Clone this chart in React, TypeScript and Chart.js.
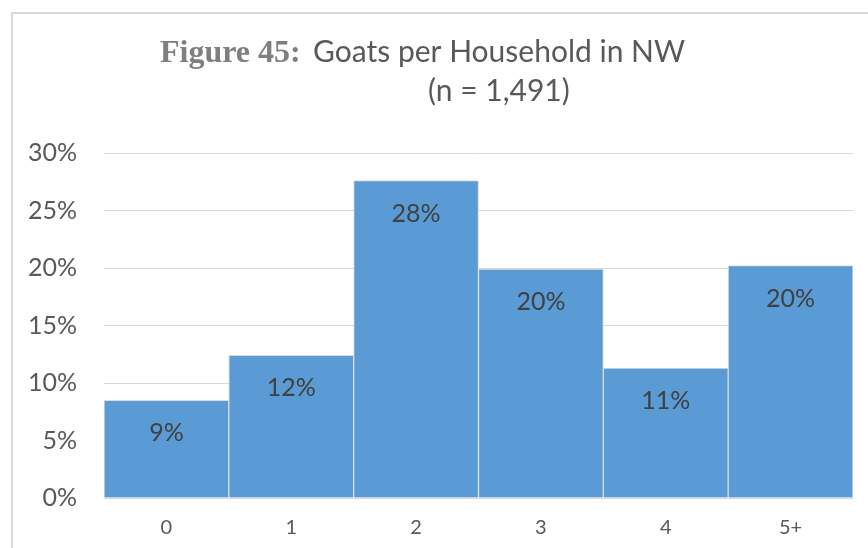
import React, { useEffect, useRef } from "react";
import { Chart, registerables } from "chart.js";

Chart.register(...registerables);

const categories = ["0", "1", "2", "3", "4", "5+"];
const shares = [8.5, 12.4, 27.6, 19.9, 11.3, 20.2];
const yTicks = [0, 5, 10, 15, 20, 25, 30];
const titleLead = "Figure 45:";
const titleMain = "Goats per Household in NW";
const titleSub = "(n = 1,491)";

const SANS = 'Lato, "Open Sans", sans-serif';

const decorPlugin = {
  id: "decor",
  beforeDraw(chart: any) {
    const ctx = chart.ctx;
    ctx.save();
    ctx.fillStyle = "#ffffff";
    ctx.fillRect(0, 0, chart.width, chart.height);
    ctx.strokeStyle = "#d9d9d9";
    ctx.lineWidth = 2;
    ctx.beginPath();
    ctx.moveTo(12, chart.height);
    ctx.lineTo(12, 13);
    ctx.lineTo(chart.width, 13);
    ctx.stroke();
    ctx.restore();
  },
  afterDraw(chart: any) {
    const ctx = chart.ctx;
    ctx.save();
    ctx.textBaseline = "alphabetic";
    ctx.textAlign = "left";
    ctx.font = 'bold 32px "Liberation Serif", "Times New Roman", serif';
    ctx.fillStyle = "#7f7f7f";
    ctx.fillText(titleLead, 160, 62);
    ctx.font = "30px " + SANS;
    ctx.fillStyle = "#595959";
    ctx.fillText(titleMain, 313, 62);
    ctx.fillText(titleSub, 428, 101);

    // data labels
    const meta = chart.getDatasetMeta(0);
    ctx.font = "25px " + SANS;
    ctx.fillStyle = "#404040";
    ctx.textAlign = "center";
    ctx.textBaseline = "middle";
    meta.data.forEach((bar: any, i: number) => {
      const v = chart.data.datasets[0].data[i];
      ctx.fillText(Math.round(v) + "%", bar.x, bar.y + 33);
    });
    ctx.restore();
  },
};

export default function App() {
  const ref = useRef<HTMLCanvasElement | null>(null);
  useEffect(() => {
    if (!ref.current) return;
    const chart = new Chart(ref.current, {
      type: "bar",
      data: {
        labels: categories,
        datasets: [
          {
            data: shares,
            backgroundColor: "#5b9bd5",
            borderColor: "#dcdcdc",
            borderWidth: 1,
            barPercentage: 1,
            categoryPercentage: 1,
          },
        ],
      },
      options: {
        responsive: false,
        animation: false,
        layout: { padding: { left: 0, top: 153, right: 15, bottom: 8 } },
        plugins: {
          legend: { display: false },
          title: { display: false },
          tooltip: { enabled: false },
        },
        scales: {
          x: {
            grid: { display: false },
            border: { display: false },
            ticks: {
              color: "#595959",
              font: { family: SANS, size: 20 },
              padding: 10,
            },
            afterFit: (s: any) => {
              s.height = 42;
            },
          },
          y: {
            min: 0,
            max: 30,
            afterBuildTicks: (s: any) => {
              s.ticks = yTicks.map((v) => ({ value: v }));
            },
            grid: { color: "#d9d9d9", lineWidth: 1, drawTicks: false },
            border: { display: false },
            ticks: {
              color: "#595959",
              font: { family: SANS, size: 25 },
              padding: 27,
              callback: (v: any) => v + "%",
            },
            afterFit: (s: any) => {
              s.width = 104;
            },
          },
        },
      },
      plugins: [decorPlugin],
    });
    return () => chart.destroy();
  }, []);
  return (
    <div style={{ position: "fixed", left: 0, top: 0, width: 868, height: 548, background: "#fff" }}>
      <canvas ref={ref} width={868} height={548} style={{ width: 868, height: 548 }} />
    </div>
  );
}
